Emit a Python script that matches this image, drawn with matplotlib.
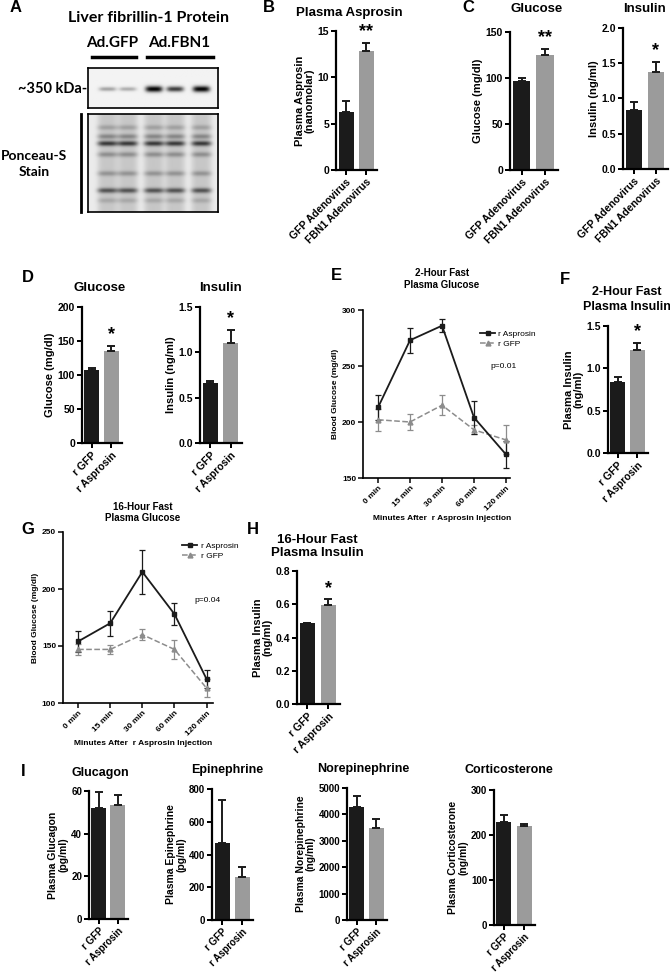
import numpy as np
import matplotlib
matplotlib.use('Agg')
import matplotlib.pyplot as plt
from matplotlib.lines import Line2D
from matplotlib.ticker import FormatStrFormatter

plt.rcParams['font.family'] = ['Liberation Sans', 'DejaVu Sans']
plt.rcParams['font.weight'] = 'bold'
plt.rcParams['axes.labelweight'] = 'bold'

W, H = 670, 972
BLACK = '#1b1b1b'
GREY = '#9b9b9b'
LINE_GREY = '#8c8c8c'

# --- data ---
adeno_labels = ['GFP Adenovirus', 'FBN1 Adenovirus']
rec_labels = ['r GFP', 'r Asprosin']
time_labels = ['0 min', '15 min', '30 min', '60 min', '120 min']

# B / C (adenovirus)
asprosin_adeno = [6.3, 12.8]
asprosin_adeno_err = [1.1, 0.9]
glucose_adeno = [97, 125]
glucose_adeno_err = [3, 7]
insulin_adeno = [0.83, 1.37]
insulin_adeno_err = [0.12, 0.15]

# D (recombinant)
glucose_rec = [108, 135]
glucose_rec_err = [3, 8]
insulin_rec = [0.66, 1.10]
insulin_rec_err = [0.02, 0.15]

# E: 2-hour fast glucose time course
fast2_asp = [213, 273, 286, 204, 171]
fast2_asp_err = [11, 11, 6, 15, 12]
fast2_gfp = [202, 200, 215, 193, 184]
fast2_gfp_err = [10, 7, 9, 4, 13]

# F / H plasma insulin
insulin_2h = [0.84, 1.22]
insulin_2h_err = [0.06, 0.08]
insulin_16h = [0.485, 0.595]
insulin_16h_err = [0.004, 0.035]

# G: 16-hour fast glucose time course
fast16_asp = [154, 170, 215, 178, 121]
fast16_asp_err = [9, 11, 19, 10, 8]
fast16_gfp = [147, 147, 160, 147, 113]
fast16_gfp_err = [5, 4, 5, 8, 8]

# I: counter-regulatory hormones
glucagon = [52, 53.5]
glucagon_err = [7.5, 4.5]
epinephrine = [470, 260]
epinephrine_err = [265, 65]
norepinephrine = [4270, 3500]
norepinephrine_err = [430, 340]
corticosterone = [230, 220]
corticosterone_err = [14, 4]

# A: western blot band strengths (0..1)
blot_lane_x = [19, 39, 65, 86, 112]
fbn1_band = [0.32, 0.28, 0.95, 0.72, 0.95]
ponceau_rows = [13, 22, 29, 40, 59, 76, 86]
ponceau_strength = [0.15, 0.25, 0.55, 0.22, 0.2, 0.45, 0.12]

fig = plt.figure(figsize=(W / 100, H / 100), dpi=100)


def px_axes(x0, x1, y0, y1):
    return fig.add_axes([x0 / W, 1 - y1 / H, (x1 - x0) / W, (y1 - y0) / H])


def ftext(x, y, s, **kw):
    fig.text(x / W, 1 - y / H, s, **kw)


def style_axes(ax, lw=1.6, tick_fs=7.5):
    for sp in ['top', 'right']:
        ax.spines[sp].set_visible(False)
    for sp in ['left', 'bottom']:
        ax.spines[sp].set_linewidth(lw)
    ax.tick_params(direction='out', length=3.5, width=lw * 0.9, labelsize=tick_fs, pad=1.5)


def bar_panel(box, vals, errs, ymax, step, xlabels, ylabel, star=None, fmt='%d',
              tick_fs=7.5, xl_fs=7.5, yl_fs=8, rot=45):
    ax = px_axes(*box)
    xs = np.arange(len(vals))
    ax.bar(xs, vals, width=0.75, color=[BLACK, GREY], zorder=2)
    ax.errorbar(xs, vals, yerr=[np.zeros(len(vals)), errs], fmt='none', ecolor=BLACK,
                elinewidth=1.4, capsize=3, capthick=1.4, zorder=3)
    ax.set_xlim(-0.5, 1.55)
    ax.set_ylim(0, ymax)
    ax.set_yticks(np.arange(0, ymax + step / 2, step))
    ax.yaxis.set_major_formatter(FormatStrFormatter(fmt))
    ax.set_xticks(xs)
    ax.set_xticklabels(xlabels, rotation=rot, ha='right', rotation_mode='anchor', fontsize=xl_fs)
    style_axes(ax, tick_fs=tick_fs)
    ax.set_ylabel(ylabel, fontsize=yl_fs, labelpad=2, linespacing=1.0)
    if star:
        ax.annotate(star, (1, vals[1] + errs[1]), xytext=(0, 8), textcoords='offset points',
                    ha='center', va='center', fontsize=13, annotation_clip=False)
    return ax


def line_panel(box, asp, asp_err, gfp, gfp_err, ylim, step, xlim, leg_xy, p_text, p_xy, xl_xy):
    ax = px_axes(*box)
    x = np.arange(len(time_labels))
    ax.errorbar(x, gfp, yerr=gfp_err, color=LINE_GREY, ls='--', lw=1.1, marker='^', ms=3.5,
                capsize=2.5, elinewidth=0.9, capthick=0.9)
    ax.errorbar(x, asp, yerr=asp_err, color=BLACK, ls='-', lw=1.3, marker='s', ms=3.5,
                capsize=2.5, elinewidth=0.9, capthick=0.9)
    ax.set_xlim(*xlim)
    ax.set_ylim(*ylim)
    ax.set_yticks(np.arange(ylim[0], ylim[1] + step / 2, step))
    ax.set_xticks(x)
    ax.set_xticklabels(time_labels, rotation=45, ha='right', rotation_mode='anchor', fontsize=6)
    style_axes(ax, lw=1.2, tick_fs=6)
    ax.set_ylabel('Blood Glucose (mg/dl)', fontsize=6, labelpad=2)
    handles = [Line2D([], [], color=BLACK, lw=1.3, marker='s', ms=3.5),
               Line2D([], [], color=LINE_GREY, lw=1.1, ls='--', marker='^', ms=3.5)]
    ax.legend(handles, ['r Asprosin', 'r GFP'], loc='upper left',
              bbox_to_anchor=(leg_xy[0] / W, 1 - leg_xy[1] / H), bbox_transform=fig.transFigure,
              frameon=False, prop={'size': 6, 'weight': 'normal'}, handlelength=1.8,
              handletextpad=0.4, borderpad=0, labelspacing=0.3)
    ftext(p_xy[0], p_xy[1], p_text, fontsize=6, weight='normal', ha='center', va='center')
    ftext(xl_xy[0], xl_xy[1], 'Minutes After  r Asprosin Injection', fontsize=6,
          ha='center', va='center')
    return ax


# ---------------- panel A: blot ----------------
ax_b1 = px_axes(88, 218, 68, 108)
yy, xx = np.mgrid[0:40, 0:130].astype(float)
img1 = np.zeros((40, 130))
for cx, s in zip(blot_lane_x, fbn1_band):
    img1 += s * np.exp(-((xx - cx) / 8.5) ** 4) * np.exp(-((yy - 21) / (1.5 + 1.5 * s)) ** 2)
img1 += 0.05
ax_b1.imshow(1 - np.clip(img1, 0, 1), cmap='gray', vmin=0, vmax=1, aspect='auto',
             interpolation='bilinear')

ax_b2 = px_axes(88, 218, 114, 212)
yy, xx = np.mgrid[0:98, 0:130].astype(float)
img2 = np.full((98, 130), 0.08)
for cx in blot_lane_x:
    lane = np.exp(-((xx - cx) / 10.0) ** 4)
    col = 0.14 * np.ones_like(yy)
    for r, s in zip(ponceau_rows, ponceau_strength):
        col += s * np.exp(-((yy - r) / 2.6) ** 2)
    img2 += lane * col
ax_b2.imshow(1 - np.clip(img2, 0, 1), cmap='gray', vmin=0, vmax=1, aspect='auto',
             interpolation='bilinear')
for a in (ax_b1, ax_b2):
    a.set_xticks([])
    a.set_yticks([])
    for sp in a.spines.values():
        sp.set_linewidth(1.2)

blot_font = ['Lato', 'DejaVu Sans']
ftext(149, 18, 'Liver fibrillin-1 Protein', fontsize=11.5, family=blot_font, ha='center', va='center')
ftext(112, 43, 'Ad.GFP', fontsize=11, family=blot_font, ha='center', va='center')
ftext(179, 43, 'Ad.FBN1', fontsize=11, family=blot_font, ha='center', va='center')
fig.add_artist(Line2D([92 / W, 136 / W], [1 - 57 / H] * 2, color='black', lw=2.5))
fig.add_artist(Line2D([147 / W, 213 / W], [1 - 57 / H] * 2, color='black', lw=2.5))
ftext(87, 89, '~350 kDa-', fontsize=10.5, family=blot_font, ha='right', va='center')
fig.add_artist(Line2D([81 / W] * 2, [1 - 114 / H, 1 - 212 / H], color='black', lw=2))
ftext(34, 164, 'Ponceau-S\nStain', fontsize=10, family=blot_font, ha='center', va='center',
      linespacing=1.35)

# ---------------- B, C ----------------
bar_panel((336, 377, 31, 170), asprosin_adeno, asprosin_adeno_err, 15, 5, adeno_labels,
          'Plasma Asprosin\n(nanomolar)', star='**')
bar_panel((510, 558, 32, 170), glucose_adeno, glucose_adeno_err, 150, 50, adeno_labels,
          'Glucose (mg/dl)', star='**')
bar_panel((623, 668, 28, 169), insulin_adeno, insulin_adeno_err, 2.0, 0.5, adeno_labels,
          'Insulin (ng/ml)', star='*', fmt='%.1f')
ftext(349, 13, 'Plasma Asprosin', fontsize=9.5, ha='center', va='center')
ftext(537, 9, 'Glucose', fontsize=9.5, ha='center', va='center')
ftext(645, 9, 'Insulin', fontsize=9.5, ha='center', va='center')

# ---------------- D ----------------
bar_panel((82, 122, 307, 443), glucose_rec, glucose_rec_err, 200, 50, rec_labels,
          'Glucose (mg/dl)', star='*', xl_fs=8)
bar_panel((200, 242, 307, 443), insulin_rec, insulin_rec_err, 1.5, 0.5, rec_labels,
          'Insulin (ng/ml)', star='*', fmt='%.1f', xl_fs=8)
ftext(100, 288, 'Glucose', fontsize=9.5, ha='center', va='center')
ftext(220, 288, 'Insulin', fontsize=9.5, ha='center', va='center')

# ---------------- E ----------------
line_panel((363, 510, 310, 478), fast2_asp, fast2_asp_err, fast2_gfp, fast2_gfp_err,
           (150, 300), 50, (-0.47, 4.125), (476, 326), 'p=0.01', (504, 367), (442, 518))
ftext(442, 273, '2-Hour Fast', fontsize=7, ha='center', va='center')
ftext(442, 285, 'Plasma Glucose', fontsize=7, ha='center', va='center')

# ---------------- F ----------------
bar_panel((608, 648, 326, 453), insulin_2h, insulin_2h_err, 1.5, 0.5, rec_labels,
          'Plasma Insulin\n(ng/ml)', star='*', fmt='%.1f', xl_fs=8)
ftext(627, 292, '2-Hour Fast', fontsize=9, ha='center', va='center')
ftext(627, 307, 'Plasma Insulin', fontsize=9, ha='center', va='center')

# ---------------- G ----------------
line_panel((63, 213, 532, 703), fast16_asp, fast16_asp_err, fast16_gfp, fast16_gfp_err,
           (100, 250), 50, (-0.47, 4.2), (178, 538), 'p=0.04', (207, 600), (143, 743))
ftext(143, 507, '16-Hour Fast', fontsize=7, ha='center', va='center')
ftext(143, 518, 'Plasma Glucose', fontsize=7, ha='center', va='center')

# ---------------- H ----------------
bar_panel((297, 340, 571, 704), insulin_16h, insulin_16h_err, 0.8, 0.2, rec_labels,
          'Plasma Insulin\n(ng/ml)', star='*', fmt='%.1f', xl_fs=8)
ftext(317, 540, '16-Hour Fast', fontsize=9.5, ha='center', va='center')
ftext(317, 553, 'Plasma Insulin', fontsize=9.5, ha='center', va='center')

# ---------------- I ----------------
i_kw = dict(tick_fs=7, xl_fs=7, yl_fs=7.5, rot=45)
bar_panel((89, 128, 791, 919), glucagon, glucagon_err, 60, 20, rec_labels,
          'Plasma Glucagon\n(pg/ml)', **i_kw)
bar_panel((212, 253, 789, 920), epinephrine, epinephrine_err, 800, 200, rec_labels,
          'Plasma Epinephrine\n(pg/ml)', **i_kw)
bar_panel((347, 387, 788, 920), norepinephrine, norepinephrine_err, 5000, 1000, rec_labels,
          'Plasma Norepinephrine\n(ng/ml)', **i_kw)
bar_panel((494, 535, 790, 925), corticosterone, corticosterone_err, 300, 100, rec_labels,
          'Plasma Corticosterone\n(ng/ml)', **i_kw)
ftext(100, 773, 'Glucagon', fontsize=9, ha='center', va='center')
ftext(227, 770, 'Epinephrine', fontsize=9, ha='center', va='center')
ftext(363, 769, 'Norepinephrine', fontsize=9, ha='center', va='center')
ftext(509, 770, 'Corticosterone', fontsize=9, ha='center', va='center')

# panel letters
for letter, (lx, ly) in {'A': (16, 8), 'B': (269, 8), 'C': (468, 8), 'D': (28, 278),
                         'E': (336, 276), 'F': (565, 280), 'G': (28, 530), 'H': (253, 530),
                         'I': (23, 771)}.items():
    ftext(lx, ly, letter, fontsize=12, ha='center', va='center')

fig.savefig('out.png', dpi=100)
